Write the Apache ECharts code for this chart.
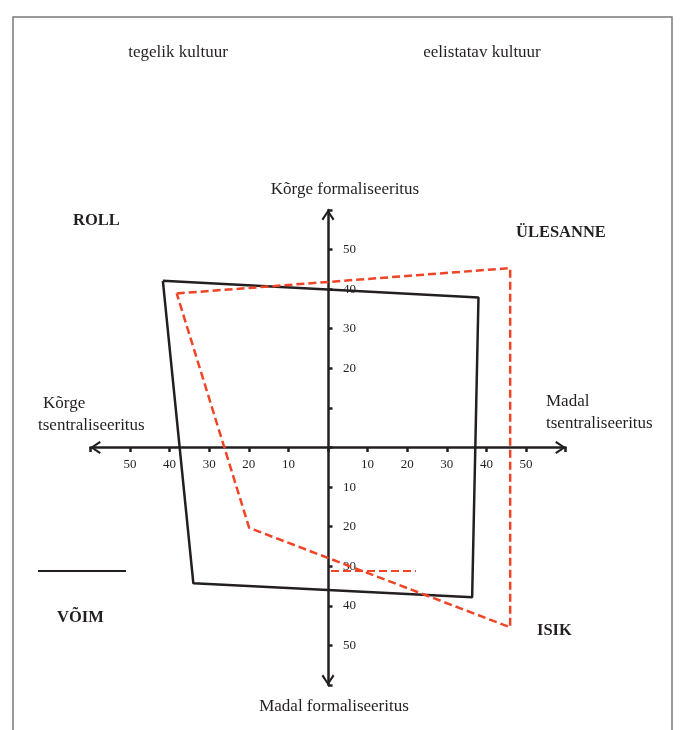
<!DOCTYPE html>
<html>
<head>
<meta charset="utf-8">
<script src="https://cdn.jsdelivr.net/npm/echarts@6/dist/echarts.min.js"></script>
<style>html,body{margin:0;padding:0;background:#fff}#c{width:684px;height:730px}</style>
</head>
<body>
<div id="c"></div>
<script>
// ---- data ----
const seriesNames = ['tegelik kultuur', 'eelistatav kultuur'];
// actual culture (black, closed polygon)
const actualX = [-41.7, 38.0, 36.4, -34.0, -41.7];
const actualY = [42.1, 37.9, -37.8, -34.3, 42.1];
// preferred culture (red dashed, closed polygon)
const preferredX = [-38.2, 46.0, 46.0, -19.9, -38.2];
const preferredY = [38.9, 45.3, -45.4, -20.3, 38.9];
// tick labels shown
const xLabelValues = [-50, -40, -30, -20, -10, 10, 20, 30, 40, 50];
const yLabelValues = [-50, -40, -30, -20, -10, 20, 30, 40, 50];
const axisMin = -60, axisMax = 60, axisStep = 10;

const INK = '#231f20';
const RED = '#ef4426';
const SERIF = '"Liberation Serif", "Times New Roman", serif';
const GRID = {left: 90.4, top: 209.9, width: 475.2, height: 475.2};

const chart = echarts.init(document.getElementById('c'), null, {renderer: 'canvas'});
const chevron = 'path://M0,9 L6,0 L12,9 L10.4,10.2 L6,3.4 L1.6,10.2 Z';

function axisCommon(labelValues) {
  return {
    type: 'value', min: axisMin, max: axisMax, interval: axisStep,
    axisLine: {onZero: false, lineStyle: {color: INK, width: 2.5},
      symbol: [chevron, chevron], symbolSize: [13, 11], symbolOffset: [5, -5]},
    splitLine: {show: false},
    axisLabel: {
      color: INK, fontFamily: SERIF, fontSize: 13,
      showMinLabel: true, showMaxLabel: true,
      formatter: v => labelValues.indexOf(v) >= 0 ? String(Math.abs(v)) : ''
    }
  };
}

const xAxis = axisCommon(xLabelValues);
xAxis.position = 'bottom';
xAxis.offset = -GRID.height / 2;
xAxis.axisTick = {show: true, length: 4.5, lineStyle: {color: INK, width: 2.5}};
xAxis.axisLabel.margin = 11;
const yAxis = axisCommon(yLabelValues);
yAxis.position = 'left';
yAxis.offset = -GRID.width / 2;
yAxis.axisTick = {show: true, inside: true, length: 4.5, lineStyle: {color: INK, width: 2.5}};
yAxis.axisLabel.inside = true;
yAxis.axisLabel.margin = 15;

function txt(text, x, y, opts) {
  return {type: 'text', silent: true, style: Object.assign({
    text, x, y, fill: INK, font: '17px ' + SERIF, align: 'left', verticalAlign: 'middle'
  }, opts || {})};
}
const BOLD = 'bold 16.5px ' + SERIF;

const legendCommon = {padding: 0, itemHeight: 14, selectedMode: false,
  formatter: () => '', textStyle: {fontSize: 1}, itemStyle: {opacity: 0}};

const option = {
  animation: false,
  backgroundColor: '#fff',
  grid: Object.assign({containLabel: false}, GRID),
  xAxis, yAxis,
  legend: [
    Object.assign({data: [seriesNames[0]], left: 37, top: 564, itemWidth: 88}, legendCommon),
    Object.assign({data: [seriesNames[1]], left: 330, top: 564, itemWidth: 85}, legendCommon)
  ],
  series: [
    {name: seriesNames[0], type: 'line', symbol: 'none', z: 3,
     data: actualX.map((x, i) => [x, actualY[i]]),
     lineStyle: {color: INK, width: 2.5}, itemStyle: {color: INK}},
    {name: seriesNames[1], type: 'line', symbol: 'none', z: 4,
     data: preferredX.map((x, i) => [x, preferredY[i]]),
     lineStyle: {color: RED, width: 2.5, type: [8, 4]}, itemStyle: {color: RED}}
  ],
  graphic: [
    {type: 'rect', silent: true, shape: {x: 13, y: 17, width: 659, height: 740},
     style: {fill: null, stroke: '#7a7a7a', lineWidth: 1.5}},
    txt('tegelik kultuur', 178, 53, {align: 'center'}),
    txt('eelistatav kultuur', 482, 53, {align: 'center'}),
    txt('Kõrge formaliseeritus', 345, 190, {align: 'center'}),
    txt('Madal formaliseeritus', 334, 707, {align: 'center'}),
    txt('Kõrge', 43, 404),
    txt('tsentraliseeritus', 38, 426),
    txt('Madal', 546, 402),
    txt('tsentraliseeritus', 546, 424),
    txt('ROLL', 73, 221, {font: BOLD}),
    txt('ÜLESANNE', 516, 233, {font: BOLD}),
    txt('VÕIM', 57, 618, {font: BOLD}),
    txt('ISIK', 537, 631, {font: BOLD})
  ]
};
chart.setOption(option);
</script>
</body>
</html>
